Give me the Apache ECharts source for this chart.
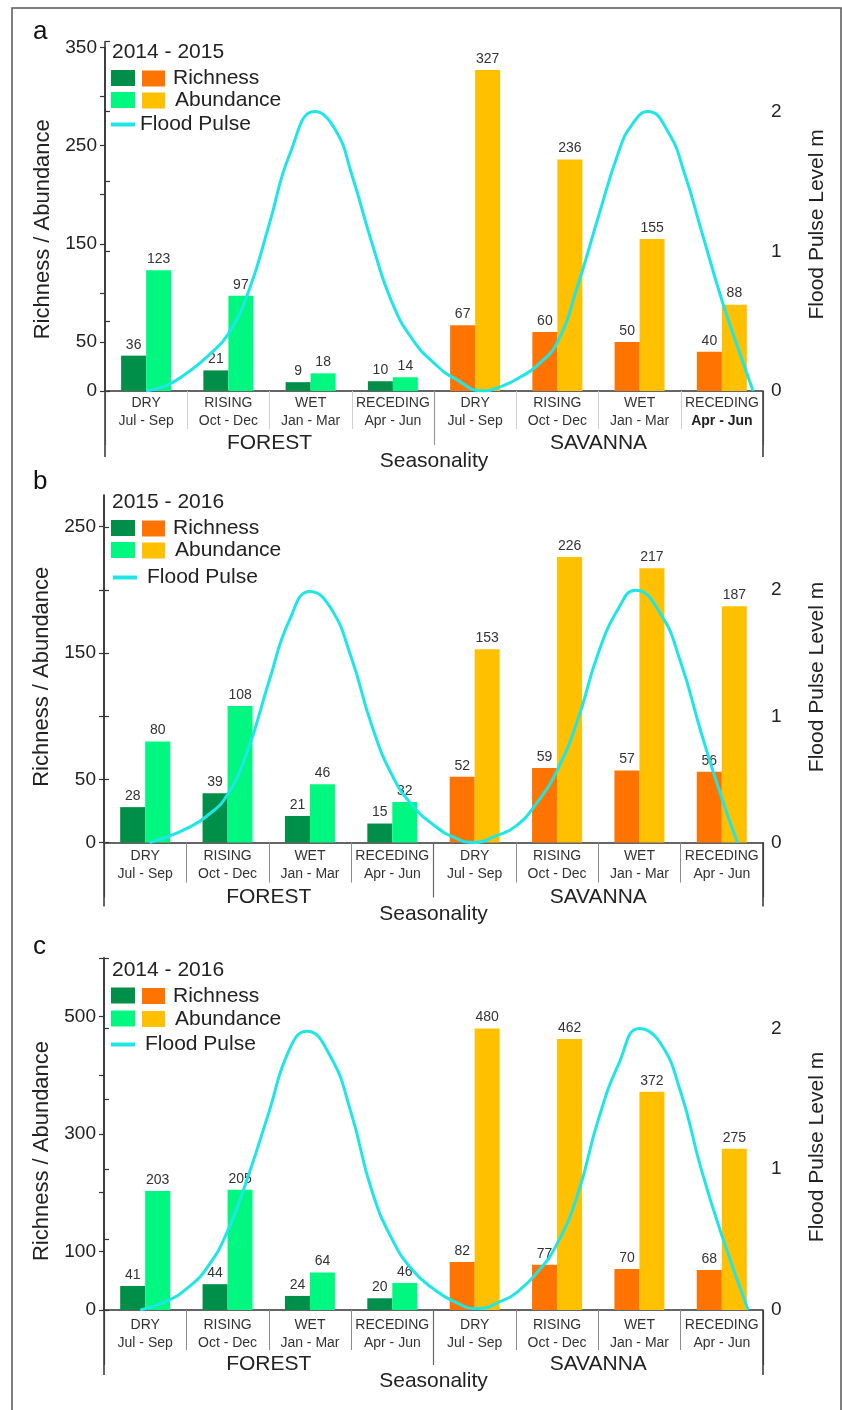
<!DOCTYPE html>
<html><head><meta charset="utf-8">
<script src="https://cdn.jsdelivr.net/npm/echarts@6/dist/echarts.min.js"></script>
<style>html,body{margin:0;padding:0;background:#fff}#c{width:842px;height:1410px}</style>
</head><body><div id="c"></div><script>
// ---------- DATA ----------
const seasons = ['DRY', 'RISING', 'WET', 'RECEDING'];
const months = ['Jul - Sep', 'Oct - Dec', 'Jan - Mar', 'Apr - Jun'];
const habitats = ['FOREST', 'SAVANNA'];
const xTitle = 'Seasonality';
const yLeftName = 'Richness / Abundance';
const yRightName = 'Flood Pulse Level m';
const periods = ['2014 - 2015', '2015 - 2016', '2014 - 2016'];
const panelLetters = ['a', 'b', 'c'];

// panel a (2014 - 2015)
const forestRichnessA = [36, 21, 9, 10];
const forestAbundanceA = [123, 97, 18, 14];
const savannaRichnessA = [67, 60, 50, 40];
const savannaAbundanceA = [327, 236, 155, 88];
// panel b (2015 - 2016)
const forestRichnessB = [28, 39, 21, 15];
const forestAbundanceB = [80, 108, 46, 32];
const savannaRichnessB = [52, 59, 57, 56];
const savannaAbundanceB = [153, 226, 217, 187];
// panel c (2014 - 2016)
const forestRichnessC = [41, 44, 24, 20];
const forestAbundanceC = [203, 205, 64, 46];
const savannaRichnessC = [82, 77, 70, 68];
const savannaAbundanceC = [480, 462, 372, 275];

// flood pulse level (m): [position along the 8 seasonal columns, level]
const floodA = [[0.5,0],[0.75,0.04],[1.0,0.13],[1.25,0.25],[1.5,0.41],[1.75,0.72],[2.0,1.2],[2.25,1.7],[2.55,2.0],[2.8,1.87],[3.0,1.55],[3.25,1.05],[3.5,0.62],[3.75,0.36],[4.0,0.2],[4.25,0.09],[4.6,0],[4.85,0.04],[5.05,0.1],[5.25,0.18],[5.5,0.35],[5.75,0.76],[6.0,1.25],[6.25,1.72],[6.4,1.9],[6.6,2.0],[6.85,1.85],[7.05,1.55],[7.25,1.15],[7.5,0.65],[7.7,0.3],[7.88,0]];
const floodB = [[0.55,0],[0.75,0.04],[1.0,0.11],[1.25,0.21],[1.5,0.38],[1.75,0.74],[2.0,1.27],[2.25,1.76],[2.5,1.99],[2.75,1.86],[3.0,1.47],[3.25,0.93],[3.5,0.53],[3.75,0.29],[4.0,0.14],[4.25,0.04],[4.5,0],[4.75,0.05],[5.0,0.13],[5.25,0.31],[5.5,0.57],[5.75,0.97],[6.0,1.5],[6.25,1.86],[6.45,2.0],[6.75,1.82],[7.0,1.43],[7.25,0.87],[7.5,0.35],[7.69,0]];
const floodC = [[0.44,0],[0.75,0.06],[1.0,0.15],[1.25,0.3],[1.5,0.56],[1.75,0.95],[2.0,1.4],[2.25,1.85],[2.46,1.98],[2.75,1.8],[3.0,1.4],[3.25,0.85],[3.5,0.5],[3.75,0.28],[4.0,0.15],[4.25,0.06],[4.53,0.01],[4.85,0.07],[5.0,0.12],[5.25,0.26],[5.5,0.47],[5.75,0.82],[6.0,1.35],[6.25,1.75],[6.5,2.0],[6.75,1.9],[7.0,1.55],[7.25,1.0],[7.5,0.53],[7.82,0]];

// axis ticks / labels
const leftMaxA = 350, leftTicksA = [0,50,100,150,200,250,300,350], leftLabelsA = [0,50,150,250,350];
const leftMaxB = 275, leftTicksB = [0,50,100,150,200,250], leftLabelsB = [0,50,150,250];
const leftMaxC = 600, leftTicksC = [0,100,200,300,400,500,600], leftLabelsC = [0,100,300,500];
const rightMaxA = 2.5, rightTicksA = [0,0.5,1,1.5,2,2.5];
const rightMaxB = 2.75, rightTicksB = [0,0.5,1,1.5,2,2.5];
const rightMaxC = 2.5, rightTicksC = [0,0.5,1,1.5,2,2.5];
const rightLabels = [0, 1, 2];

// ---------- STYLE / LAYOUT ----------
const FONT = '"Liberation Sans", Arial, sans-serif';
const C_DG = '#008F48', C_LG = '#00F880', C_OR = '#FF7400', C_YE = '#FFC000', C_CY = '#1EE6E6';
const TXT = '#222';

const panels = [
  {fr: forestRichnessA, fa: forestAbundanceA, sr: savannaRichnessA, sa: savannaAbundanceA, flood: floodA,
   lMax: leftMaxA, lInt: 50, lTicks: leftTicksA, lLabels: leftLabelsA, rMax: rightMaxA, rTicks: rightTicksA,
   L: {left: 105, width: 658, barTop: 47.5, lineTop: 41.7, zeroY: 391, catMargin: 3, habMargin: 42, seaMargin: 60,
       divLen: 38, midLen: 54, edgeLen: 66, divColor: '#cfcfcf', midColor: '#9a9a9a', lShift: 20, rShift: 16,
       letterY: 34, titleY: 52, row1: 78, row2: 100, row3: 124, lineLegX: 111, floodTextPad: 0, boldLast: true}},
  {fr: forestRichnessB, fa: forestAbundanceB, sr: savannaRichnessB, sa: savannaAbundanceB, flood: floodB,
   lMax: leftMaxB, lInt: 50, lTicks: leftTicksB, lLabels: leftLabelsB, rMax: rightMaxB, rTicks: rightTicksB,
   L: {left: 104, width: 659, barTop: 495, lineTop: 495.5, zeroY: 842.5, catMargin: 5, habMargin: 44, seaMargin: 61,
       divLen: 40, midLen: 55, edgeLen: 64, divColor: '#8c8c8c', midColor: '#666', lShift: 16, rShift: 16,
       letterY: 484, titleY: 502.5, row1: 528, row2: 550, row3: 577, lineLegX: 113, floodTextPad: 5, boldLast: false}},
  {fr: forestRichnessC, fa: forestAbundanceC, sr: savannaRichnessC, sa: savannaAbundanceC, flood: floodC,
   lMax: leftMaxC, lInt: 100, lTicks: leftTicksC, lLabels: leftLabelsC, rMax: rightMaxC, rTicks: rightTicksC,
   L: {left: 104, width: 659, barTop: 958, lineTop: 958, zeroY: 1310, catMargin: 6, habMargin: 44, seaMargin: 61,
       divLen: 40, midLen: 55, edgeLen: 65, divColor: '#8c8c8c', midColor: '#666', lShift: 34, rShift: 26,
       letterY: 949, titleY: 970, row1: 995.5, row2: 1018.5, row3: 1044, lineLegX: 111, floodTextPad: 5, boldLast: false}}
];

const grid = [], xAxis = [], yAxis = [], series = [], legend = [], graphic = [];
const catKeys = [];
habitats.forEach(h => seasons.forEach(s => catKeys.push(h + ' ' + s)));
const dash4 = ['-', '-', '-', '-'];

graphic.push({type: 'rect', shape: {x: 12, y: 8, width: 829, height: 1412},
  style: {fill: 'none', stroke: '#555', lineWidth: 1.5}, z: 0});

panels.forEach((p, i) => {
  const L = p.L;
  const gB = grid.length;
  grid.push({left: L.left, width: L.width, top: L.barTop, height: L.zeroY - L.barTop, containLabel: false});
  grid.push({left: L.left, width: L.width, top: L.lineTop, height: L.zeroY - L.lineTop, containLabel: false});
  const xi = xAxis.length;
  xAxis.push({type: 'category', gridIndex: gB, position: 'bottom', data: catKeys,
    axisLine: {show: true, lineStyle: {color: '#333', width: 1.5}},
    axisTick: {show: true, interval: 0, length: L.divLen, lineStyle: {color: L.divColor, width: 1}},
    axisLabel: {interval: 0, margin: L.catMargin, color: '#333', fontFamily: FONT, fontSize: 14, lineHeight: 18,
      formatter: (v, idx) => {
        const k = idx % 4;
        if (L.boldLast && idx === 7) return '{n|' + seasons[k] + '}\n{b|' + months[k] + '}';
        return '{n|' + seasons[k] + '}\n{n|' + months[k] + '}';
      },
      rich: {n: {fontFamily: FONT, fontSize: 14, color: '#333', lineHeight: 18},
             b: {fontFamily: FONT, fontSize: 14, color: '#222', fontWeight: 'bold', lineHeight: 18}}}});
  xAxis.push({type: 'category', gridIndex: gB, position: 'bottom', data: habitats,
    axisLine: {show: false},
    axisTick: {show: true, interval: 0, length: L.midLen, lineStyle: {color: L.midColor, width: 1.2}},
    axisLabel: {interval: 0, margin: L.habMargin, color: TXT, fontFamily: FONT, fontSize: 21}});
  xAxis.push({type: 'category', gridIndex: gB, position: 'bottom', data: [xTitle],
    axisLine: {show: false},
    axisTick: {show: true, interval: 0, length: L.edgeLen, lineStyle: {color: '#333', width: 1.5}},
    axisLabel: {interval: 0, margin: L.seaMargin, color: TXT, fontFamily: FONT, fontSize: 21}});
  xAxis.push({type: 'value', gridIndex: gB + 1, min: 0, max: 8, show: false});

  const yi = yAxis.length;
  yAxis.push({type: 'value', gridIndex: gB, position: 'left', min: 0, max: p.lMax, interval: p.lInt,
    axisLine: {show: true, lineStyle: {color: '#333', width: 1.5}},
    axisTick: {show: true, length: 5, customValues: p.lTicks, lineStyle: {color: '#333', width: 1.2}},
    axisLabel: {customValues: p.lLabels, margin: 8, color: TXT, fontFamily: FONT, fontSize: 19},
    splitLine: {show: false},
    name: yLeftName, nameLocation: 'middle', nameRotate: 90, nameGap: 46,
    nameTextStyle: {color: TXT, fontFamily: FONT, fontSize: 22, padding: [0, L.lShift, 0, 0]}});
  yAxis.push({type: 'value', gridIndex: gB + 1, position: 'right', min: 0, max: p.rMax, interval: 0.5,
    axisLine: {show: true, lineStyle: {color: '#333', width: 1.5}},
    axisTick: {show: true, length: 5, customValues: p.rTicks, lineStyle: {color: '#333', width: 1.2}},
    axisLabel: {customValues: rightLabels, margin: 8, color: TXT, fontFamily: FONT, fontSize: 19},
    splitLine: {show: false},
    name: yRightName, nameLocation: 'middle', nameRotate: 90, nameGap: 44,
    nameTextStyle: {color: TXT, fontFamily: FONT, fontSize: 21, padding: [0, L.rShift, 0, 0]}});

  const lbl = {show: true, position: 'top', distance: 4, color: '#333', fontFamily: FONT, fontSize: 14};
  const bar = (name, stack, data, color) => ({name, type: 'bar', xAxisIndex: xi, yAxisIndex: yi, stack: stack + i,
    barWidth: 25, barGap: '0%', data, itemStyle: {color}, label: lbl, z: 2});
  series.push(bar('Forest Richness', 'r', p.fr.concat(dash4), C_DG));
  series.push(bar('Forest Abundance', 'a', p.fa.concat(dash4), C_LG));
  series.push(bar('Richness', 'r', dash4.concat(p.sr), C_OR));
  series.push(bar('Abundance', 'a', dash4.concat(p.sa), C_YE));
  series.push({name: 'Flood Pulse', type: 'line', xAxisIndex: xi + 3, yAxisIndex: yi + 1, data: p.flood,
    smooth: 0.5, showSymbol: false, symbol: 'none', lineStyle: {color: C_CY, width: 3}, itemStyle: {color: C_CY}, z: 5});

  const iconLeg = (name, top) => ({orient: 'horizontal', padding: 0, left: 111, top, itemWidth: 24, itemHeight: 16,
    icon: 'rect', selectedMode: false, data: [name], formatter: () => '', textStyle: {fontSize: 1, lineHeight: 16}});
  const textLeg = (name, top, pad) => ({orient: 'horizontal', padding: 0, left: 142, top, itemWidth: 23, itemHeight: 16,
    icon: 'rect', selectedMode: false, data: [name],
    textStyle: {color: TXT, fontFamily: FONT, fontSize: 21, lineHeight: 20, padding: [0, 0, 0, pad]}});
  legend.push(iconLeg('Forest Richness', L.row1 - 8));
  legend.push(iconLeg('Forest Abundance', L.row2 - 8));
  legend.push(textLeg('Richness', L.row1 - 10, 3));
  legend.push(textLeg('Abundance', L.row2 - 10, 5));
  legend.push({orient: 'horizontal', padding: 0, left: L.lineLegX, top: L.row3 - 10, itemWidth: 24, itemHeight: 4,
    icon: 'rect', selectedMode: false, data: ['Flood Pulse'],
    textStyle: {color: TXT, fontFamily: FONT, fontSize: 21, lineHeight: 20, padding: [0, 0, 0, L.floodTextPad]}});

  graphic.push({type: 'text', left: 33, top: L.letterY - 15,
    style: {text: panelLetters[i], fill: '#111', font: '26px ' + FONT}});
  graphic.push({type: 'text', x: 112, y: L.titleY,
    style: {text: periods[i], fill: TXT, font: '21px ' + FONT, verticalAlign: 'middle'}});
});

const chart = echarts.init(document.getElementById('c'), null, {renderer: 'canvas'});
chart.setOption({
  animation: false,
  backgroundColor: '#fff',
  textStyle: {fontFamily: FONT},
  grid, xAxis, yAxis, series, legend, graphic
});
</script></body></html>
